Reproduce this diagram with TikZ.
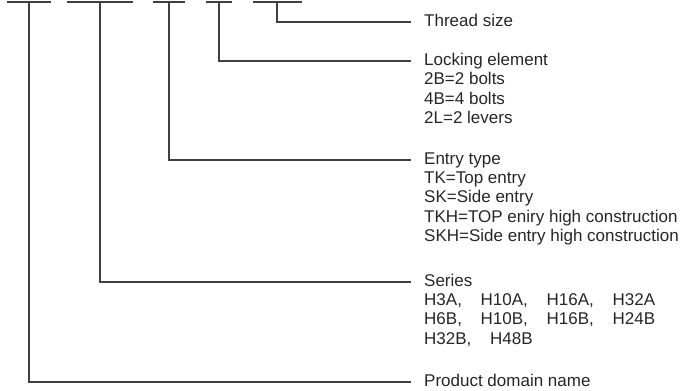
\documentclass[tikz,border=0pt]{standalone}
\usepackage{fontspec}
\setmainfont{Liberation Sans}
\usetikzlibrary{positioning}
\definecolor{linegray}{HTML}{404040}
\definecolor{textgray}{HTML}{262626}
\tikzset{
  field/.style = {draw=linegray, line width=1.2pt},
  title/.style = {anchor=west, inner xsep=13pt, inner ysep=0pt, text height=12pt, text depth=4pt, text=textgray, font=\fontsize{17}{19.5}\selectfont},
  items/.style = {inner xsep=13pt, inner ysep=0pt, align=left, text=textgray, font=\fontsize{17}{19.5}\selectfont}
}

\begin{document}
\begin{tikzpicture}[x=1pt, y=-1pt]
\useasboundingbox (0,0) rectangle (686,391);
% code fields
\coordinate (f1) at (29,2);
\coordinate (f2) at (100,2);
\coordinate (f3) at (169,2);
\coordinate (f4) at (219,2);
\coordinate (f5) at (277,2);
\draw [field] (7,2) -- (51,2);
\draw [field] (67,2) -- (133,2);
\draw [field] (153,2) -- (185,2);
\draw [field] (206,2) -- (232,2);
\draw [field] (253,2) -- (302,2);
% labels
\node[title] (thread) at (411,22) {Thread size};
\node[title] (lock) at (411,61) {Locking element};
\node[items, below right=3pt and 0pt of lock.south west] (lockl) {2B=2 bolts\\4B=4 bolts\\2L=2 levers};
\node[title] (entry) at (411,160) {Entry type};
\node[items, below right=3pt and 0pt of entry.south west] (entryl) {TK=Top entry\\SK=Side entry\\TKH=TOP eniry high construction\\SKH=Side entry high construction};
\node[title] (series) at (411,282) {Series};
\node[items, below right=3pt and 0pt of series.south west] (seriesl) {H3A,\hspace{1.1em}H10A,\hspace{1.1em}H16A,\hspace{1.1em}H32A\\H6B,\hspace{1.1em}H10B,\hspace{1.1em}H16B,\hspace{1.1em}H24B\\H32B,\hspace{1.1em}H48B};
\node[title] (domain) at (411,382) {Product domain name};
% leaders
\draw [field] (f5) |- (thread.west);
\draw [field] (f4) |- (lock.west);
\draw [field] (f3) |- (entry.west);
\draw [field] (f2) |- (series.west);
\draw [field] (f1) |- (domain.west);
\end{tikzpicture}
\end{document}
